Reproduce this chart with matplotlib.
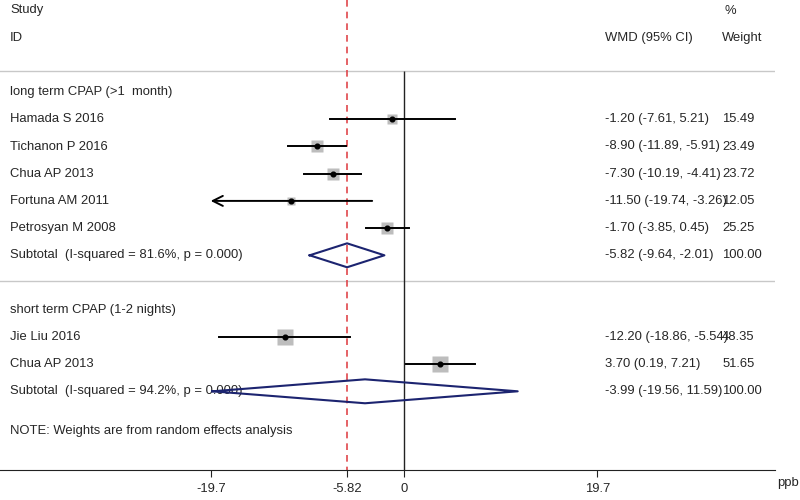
import numpy as np
from matplotlib import pyplot as plt

plt.rcParams['font.family'] = ['Liberation Sans', 'DejaVu Sans']

# study level data
groups = ['long term CPAP (>1  month)', 'short term CPAP (1-2 nights)']
studies = [['Hamada S 2016', 'Tichanon P 2016', 'Chua AP 2013',
            'Fortuna AM 2011', 'Petrosyan M 2008'],
           ['Jie Liu 2016', 'Chua AP 2013']]
est = [[-1.20, -8.90, -7.30, -11.50, -1.70], [-12.20, 3.70]]
lo = [[-7.61, -11.89, -10.19, -19.74, -3.85], [-18.86, 0.19]]
hi = [[5.21, -5.91, -4.41, -3.26, 0.45], [-5.54, 7.21]]
wts = [[15.49, 23.49, 23.72, 12.05, 25.25], [48.35, 51.65]]
sub_txt = ['Subtotal  (I-squared = 81.6%, p = 0.000)',
           'Subtotal  (I-squared = 94.2%, p = 0.000)']
sub_est = [-5.82, -3.99]
sub_lo = [-9.64, -19.56]
sub_hi = [-2.01, 11.59]
overall = -5.82
xr = 19.7            # plot range, CIs past it get an arrow
ticks = [-19.7, -5.82, 0, 19.7]
tick_labels = ['-19.7', '-5.82', '0', '19.7']

fs = 9.4
tc = '#262626'
navy = '#1c2470'

fig = plt.figure(figsize=(8, 5), dpi=100)
ax = fig.add_axes([0, 0.06, 0.969, 0.94])
px = 9.797  # pixels per unit
ax.set_xlim(-404 / px, (775 - 404) / px)
step, y0 = 27.2, 10.5
ax.set_ylim((470 - y0) / step, -y0 / step)
for s in ['top', 'right', 'left']:
    ax.spines[s].set_visible(False)
ax.spines['bottom'].set_color('#222222')
ax.set_yticks([])
ax.set_xticks(ticks)
ax.set_xticklabels(tick_labels, fontsize=fs, color=tc)
ax.tick_params(axis='x', direction='out', length=5, color='#222222', pad=4)

xw = 605 / 775   # axes fraction for the WMD column
xp = 722 / 775   # axes fraction for weights
tr = ax.get_yaxis_transform()

def left(row, s):
    ax.text(10 / 775, row, s, transform=tr, fontsize=fs, color=tc,
            va='center', ha='left')

def cols(row, a, b):
    ax.text(xw, row, a, transform=tr, fontsize=fs, color=tc, va='center',
            clip_on=False)
    ax.text(xp, row, b, transform=tr, fontsize=fs, color=tc, va='center',
            clip_on=False)

left(0, 'Study')
left(1, 'ID')
cols(1, 'WMD (95% CI)', 'Weight')
ax.text(xp + 0.003, 0, '%', transform=tr, fontsize=fs, color=tc, va='center',
        clip_on=False)

seps = [2.24, 9.96]
for yy in seps:
    ax.plot([0, 1], [yy, yy], transform=tr, color='#c8c8c8', lw=1)

# reference lines
ax.vlines(0, seps[0], ax.get_ylim()[0], color='#222222', lw=1)
ax.vlines(overall, ax.get_ylim()[1], ax.get_ylim()[0], color='#e0474c',
          lw=1.2, linestyles=(0, (4, 3)))

row = 3
for g in range(len(groups)):
    left(row, groups[g])
    row += 1
    for i, name in enumerate(studies[g]):
        left(row, name)
        l, h, e = lo[g][i], hi[g][i], est[g][i]
        ax.plot(e, row, 's', ms=1.65 * np.sqrt(wts[g][i]), color='#bdbdbd',
                mec='none', zorder=2)
        if l < -xr:
            ax.annotate('', xy=(l, row), xytext=(h, row),
                        arrowprops=dict(arrowstyle='->', lw=1.4, color='black',
                                        mutation_scale=18, shrinkA=0, shrinkB=0))
        else:
            ax.plot([l, h], [row, row], color='black', lw=1.4, zorder=3)
        ax.plot(e, row, 'o', ms=3.4, color='black', zorder=4)
        cols(row, '%.2f (%.2f, %.2f)' % (e, l, h), '%.2f' % wts[g][i])
        row += 1
    left(row, sub_txt[g])
    hh = 0.44
    ax.plot([sub_lo[g], sub_est[g], sub_hi[g], sub_est[g], sub_lo[g]],
            [row, row - hh, row, row + hh, row], color=navy, lw=1.5, zorder=3)
    cols(row, '%.2f (%.2f, %.2f)' % (sub_est[g], sub_lo[g], sub_hi[g]), '100.00')
    row += 2

left(15.45, 'NOTE: Weights are from random effects analysis')
fig.text(0.985, 1 - 483 / 500, 'ppb', fontsize=fs, color=tc, ha='center',
         va='center')

fig.savefig('out.png', dpi=100)
